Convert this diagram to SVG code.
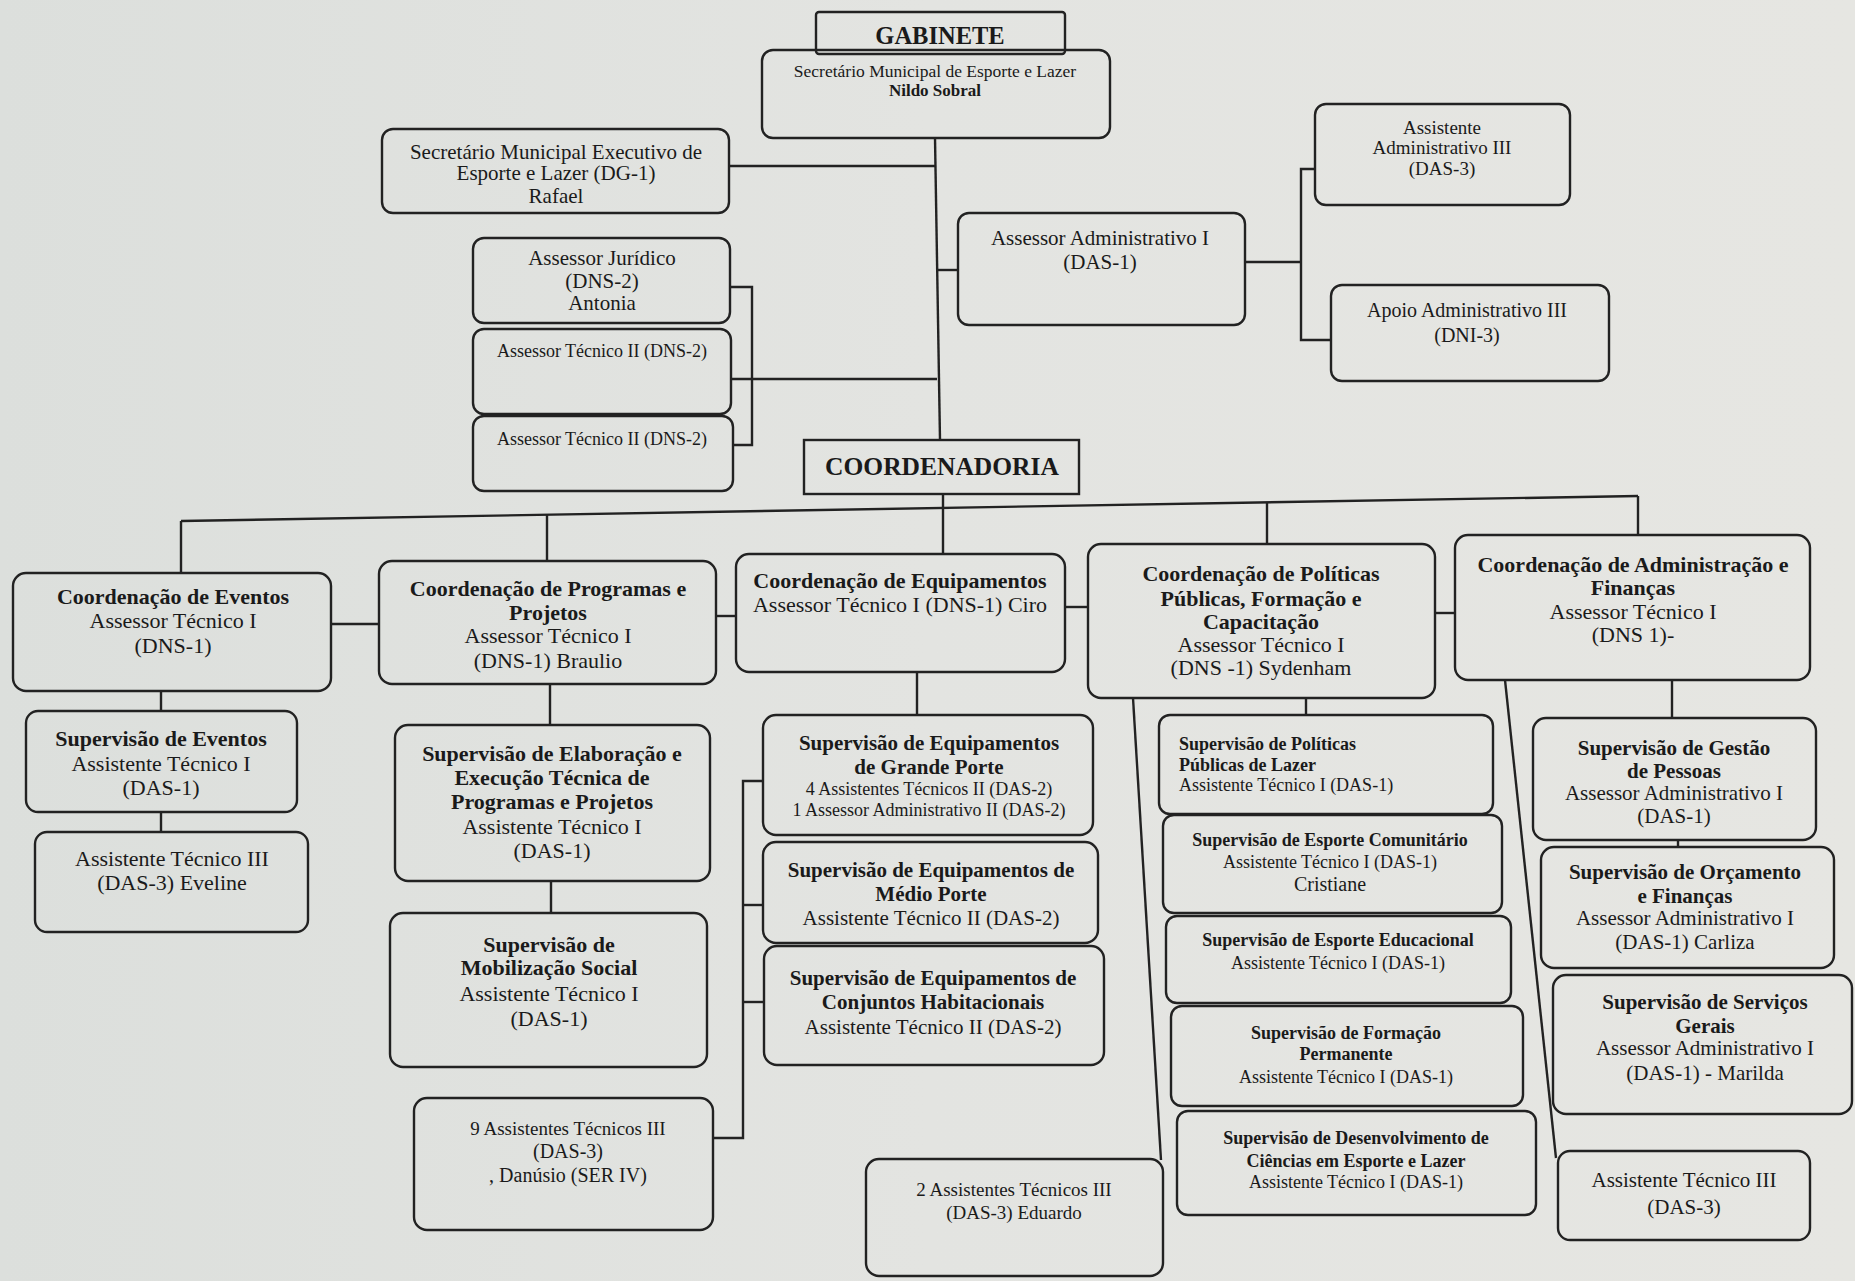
<svg xmlns="http://www.w3.org/2000/svg" width="1855" height="1281" viewBox="0 0 1855 1281">
<defs>
<linearGradient id="bg" x1="0" y1="0" x2="1" y2="0">
<stop offset="0" stop-color="#dcdfdc"/>
<stop offset="0.5" stop-color="#e3e4e1"/>
<stop offset="1" stop-color="#e6e6e2"/>
</linearGradient>
</defs>
<style>
.box{fill:none;stroke:#222;stroke-width:2.4}
.ln{fill:none;stroke:#222;stroke-width:2.4}
text{font-family:"Liberation Serif","Times New Roman",serif;fill:#1a1a1a;text-anchor:middle}
.r{font-size:21px}
.b{font-size:21px;font-weight:bold}
.s{font-size:18px}
.sb{font-size:18px;font-weight:bold}
.g{font-size:22px}
.gb{font-size:22px;font-weight:bold}
.l{text-anchor:start}
</style>
<rect x="0" y="0" width="1855" height="1281" fill="url(#bg)"/>

<g id="connectors">
<polyline class="ln" points="935,138 940,440"/>
<polyline class="ln" points="729,166 936,166"/>
<polyline class="ln" points="730,287 752,287 752,445 733,445"/>
<polyline class="ln" points="731,379 937,379"/>
<polyline class="ln" points="938,270 958,270"/>
<polyline class="ln" points="1245,262 1301,262"/>
<polyline class="ln" points="1315,169 1301,169 1301,340 1331,340"/>
<polyline class="ln" points="943,494 943,554"/>
<polyline class="ln" points="181,521 1638,496"/>
<polyline class="ln" points="181,521 181,573"/>
<polyline class="ln" points="547,515 547,561"/>
<polyline class="ln" points="1267,502 1267,544"/>
<polyline class="ln" points="1638,496 1638,535"/>
<polyline class="ln" points="331,624 379,624"/>
<polyline class="ln" points="716,616 736,616"/>
<polyline class="ln" points="1065,607 1088,607"/>
<polyline class="ln" points="1435,613 1455,613"/>
<polyline class="ln" points="161,691 161,711"/>
<polyline class="ln" points="161,812 161,832"/>
<polyline class="ln" points="550,684 550,725"/>
<polyline class="ln" points="551,881 551,913"/>
<polyline class="ln" points="917,672 917,715"/>
<polyline class="ln" points="763,781 743,781 743,1138 713,1138"/>
<polyline class="ln" points="743,905 763,905"/>
<polyline class="ln" points="743,1002 764,1002"/>
<polyline class="ln" points="1133,698 1161,1160"/>
<polyline class="ln" points="1306,698 1306,715"/>
<polyline class="ln" points="1672,680 1672,718"/>
<polyline class="ln" points="1678,840 1678,847"/>
<polyline class="ln" points="1505,680 1556,1158"/>
</g>

<g id="gabinete">
<rect class="box" x="816" y="12" width="249" height="42" rx="3"/>
<text class="gb" x="940" y="44" style="font-size:24.5px">GABINETE</text>
</g>
<g id="secretario">
<rect class="box" x="762" y="50" width="348" height="88" rx="11"/>
<text class="s" x="935" y="77" style="font-size:17.5px">Secretário Municipal de Esporte e Lazer</text>
<text class="sb" x="935" y="96" style="font-size:17px">Nildo Sobral</text>
</g>
<g id="executivo">
<rect class="box" x="382" y="129" width="347" height="84" rx="11"/>
<text class="r" x="556" y="159">Secretário Municipal Executivo de</text>
<text class="r" x="556" y="180">Esporte e Lazer (DG-1)</text>
<text class="r" x="556" y="203">Rafael</text>
</g>
<g id="juridico">
<rect class="box" x="473" y="238" width="257" height="85" rx="11"/>
<text class="r" x="602" y="265">Assessor Jurídico</text>
<text class="r" x="602" y="288">(DNS-2)</text>
<text class="r" x="602" y="310">Antonia</text>
</g>
<g id="tecnico2a">
<rect class="box" x="473" y="329" width="258" height="85" rx="11"/>
<text class="s" x="602" y="357">Assessor Técnico II (DNS-2)</text>
</g>
<g id="tecnico2b">
<rect class="box" x="473" y="416" width="260" height="75" rx="11"/>
<text class="s" x="602" y="445">Assessor Técnico II (DNS-2)</text>
</g>
<g id="admin1">
<rect class="box" x="958" y="213" width="287" height="112" rx="11"/>
<text class="r" x="1100" y="245">Assessor Administrativo I</text>
<text class="r" x="1100" y="269">(DAS-1)</text>
</g>
<g id="assistadm3">
<rect class="box" x="1315" y="104" width="255" height="101" rx="11"/>
<text class="s" x="1442" y="134" style="font-size:19px">Assistente</text>
<text class="s" x="1442" y="154" style="font-size:19px">Administrativo III</text>
<text class="s" x="1442" y="175" style="font-size:19px">(DAS-3)</text>
</g>
<g id="apoio">
<rect class="box" x="1331" y="285" width="278" height="96" rx="11"/>
<text class="r" x="1467" y="317" style="font-size:20px">Apoio Administrativo III</text>
<text class="r" x="1467" y="342" style="font-size:20px">(DNI-3)</text>
</g>
<g id="coordenadoria">
<rect class="box" x="804" y="440" width="275" height="54"/>
<text class="gb" x="942" y="475" style="font-size:25.5px">COORDENADORIA</text>
</g>

<g id="coord-eventos">
<rect class="box" x="13" y="573" width="318" height="118" rx="13"/>
<text class="gb" x="173" y="604">Coordenação de Eventos</text>
<text class="g" x="173" y="628">Assessor Técnico I</text>
<text class="g" x="173" y="653">(DNS-1)</text>
</g>
<g id="coord-programas">
<rect class="box" x="379" y="561" width="337" height="123" rx="13"/>
<text class="gb" x="548" y="596">Coordenação de Programas e</text>
<text class="gb" x="548" y="620">Projetos</text>
<text class="g" x="548" y="643">Assessor Técnico I</text>
<text class="g" x="548" y="668">(DNS-1) Braulio</text>
</g>
<g id="coord-equipamentos">
<rect class="box" x="736" y="554" width="329" height="118" rx="13"/>
<text class="gb" x="900" y="588">Coordenação de Equipamentos</text>
<text class="g" x="900" y="612">Assessor Técnico I (DNS-1) Ciro</text>
</g>
<g id="coord-politicas">
<rect class="box" x="1088" y="544" width="347" height="154" rx="13"/>
<text class="gb" x="1261" y="581">Coordenação de Políticas</text>
<text class="gb" x="1261" y="606">Públicas, Formação e</text>
<text class="gb" x="1261" y="629">Capacitação</text>
<text class="g" x="1261" y="652">Assessor Técnico I</text>
<text class="g" x="1261" y="675">(DNS -1) Sydenham</text>
</g>
<g id="coord-admin">
<rect class="box" x="1455" y="535" width="355" height="145" rx="13"/>
<text class="gb" x="1633" y="572">Coordenação de Administração e</text>
<text class="gb" x="1633" y="595">Finanças</text>
<text class="g" x="1633" y="619">Assessor Técnico I</text>
<text class="g" x="1633" y="642">(DNS 1)-</text>
</g>

<g id="sup-eventos">
<rect class="box" x="26" y="711" width="271" height="101" rx="12"/>
<text class="gb" x="161" y="746">Supervisão de Eventos</text>
<text class="g" x="161" y="771">Assistente Técnico I</text>
<text class="g" x="161" y="795">(DAS-1)</text>
</g>
<g id="at3-eveline">
<rect class="box" x="35" y="832" width="273" height="100" rx="12"/>
<text class="g" x="172" y="866">Assistente Técnico III</text>
<text class="g" x="172" y="890">(DAS-3) Eveline</text>
</g>

<g id="sup-elaboracao">
<rect class="box" x="395" y="725" width="315" height="156" rx="13"/>
<text class="gb" x="552" y="761">Supervisão de Elaboração e</text>
<text class="gb" x="552" y="785">Execução Técnica de</text>
<text class="gb" x="552" y="809">Programas e Projetos</text>
<text class="g" x="552" y="834">Assistente Técnico I</text>
<text class="g" x="552" y="858">(DAS-1)</text>
</g>
<g id="sup-mobilizacao">
<rect class="box" x="390" y="913" width="317" height="154" rx="13"/>
<text class="gb" x="549" y="952">Supervisão de</text>
<text class="gb" x="549" y="975">Mobilização Social</text>
<text class="g" x="549" y="1001">Assistente Técnico I</text>
<text class="g" x="549" y="1026">(DAS-1)</text>
</g>
<g id="nove-assistentes">
<rect class="box" x="414" y="1098" width="299" height="132" rx="13"/>
<text class="s" x="568" y="1135" style="font-size:19px">9 Assistentes Técnicos  III</text>
<text class="r" x="568" y="1158" style="font-size:20px">(DAS-3)</text>
<text class="r" x="568" y="1182" style="font-size:20px">, Danúsio (SER IV)</text>
</g>

<g id="sup-grande">
<rect class="box" x="763" y="715" width="330" height="120" rx="13"/>
<text class="b" x="929" y="750">Supervisão de Equipamentos</text>
<text class="b" x="929" y="774">de Grande Porte</text>
<text class="s" x="929" y="795">4 Assistentes Técnicos II (DAS-2)</text>
<text class="s" x="929" y="816">1 Assessor Administrativo II (DAS-2)</text>
</g>
<g id="sup-medio">
<rect class="box" x="763" y="842" width="335" height="101" rx="13"/>
<text class="b" x="931" y="877">Supervisão de Equipamentos de</text>
<text class="b" x="931" y="901">Médio Porte</text>
<text class="r" x="931" y="925">Assistente Técnico II (DAS-2)</text>
</g>
<g id="sup-conjuntos">
<rect class="box" x="764" y="946" width="340" height="119" rx="13"/>
<text class="b" x="933" y="985">Supervisão de Equipamentos de</text>
<text class="b" x="933" y="1009">Conjuntos Habitacionais</text>
<text class="r" x="933" y="1034">Assistente Técnico II (DAS-2)</text>
</g>
<g id="dois-assistentes">
<rect class="box" x="866" y="1159" width="297" height="117" rx="13"/>
<text class="s" x="1014" y="1196" style="font-size:19px">2 Assistentes Técnicos III</text>
<text class="s" x="1014" y="1219" style="font-size:19px">(DAS-3) Eduardo</text>
</g>

<g id="sup-politicas-lazer">
<rect class="box" x="1159" y="715" width="334" height="99" rx="11"/>
<text class="sb l" x="1179" y="750">Supervisão de Políticas</text>
<text class="sb l" x="1179" y="771">Públicas de Lazer</text>
<text class="s l" x="1179" y="791">Assistente Técnico I (DAS-1)</text>
</g>
<g id="sup-comunitario">
<rect class="box" x="1163" y="815" width="339" height="98" rx="11"/>
<text class="sb" x="1330" y="846">Supervisão de Esporte Comunitário</text>
<text class="s" x="1330" y="868">Assistente Técnico I (DAS-1)</text>
<text class="r" x="1330" y="891" style="font-size:20px">Cristiane</text>
</g>
<g id="sup-educacional">
<rect class="box" x="1166" y="916" width="345" height="87" rx="11"/>
<text class="sb" x="1338" y="946">Supervisão de Esporte Educacional</text>
<text class="s" x="1338" y="969">Assistente Técnico I (DAS-1)</text>
</g>
<g id="sup-formacao">
<rect class="box" x="1171" y="1006" width="352" height="100" rx="11"/>
<text class="sb" x="1346" y="1039">Supervisão de Formação</text>
<text class="sb" x="1346" y="1060">Permanente</text>
<text class="s" x="1346" y="1083">Assistente Técnico I (DAS-1)</text>
</g>
<g id="sup-desenvolvimento">
<rect class="box" x="1177" y="1111" width="359" height="104" rx="11"/>
<text class="sb" x="1356" y="1144">Supervisão de Desenvolvimento de</text>
<text class="sb" x="1356" y="1167">Ciências em Esporte e Lazer</text>
<text class="s" x="1356" y="1188">Assistente Técnico I (DAS-1)</text>
</g>

<g id="sup-gestao">
<rect class="box" x="1533" y="718" width="283" height="122" rx="13"/>
<text class="b" x="1674" y="755">Supervisão de Gestão</text>
<text class="b" x="1674" y="778">de Pessoas</text>
<text class="r" x="1674" y="800">Assessor Administrativo I</text>
<text class="r" x="1674" y="823">(DAS-1)</text>
</g>
<g id="sup-orcamento">
<rect class="box" x="1541" y="847" width="293" height="121" rx="13"/>
<text class="b" x="1685" y="879">Supervisão de Orçamento</text>
<text class="b" x="1685" y="903">e Finanças</text>
<text class="r" x="1685" y="925">Assessor Administrativo I</text>
<text class="r" x="1685" y="949">(DAS-1) Carliza</text>
</g>
<g id="sup-servicos">
<rect class="box" x="1553" y="975" width="299" height="139" rx="13"/>
<text class="b" x="1705" y="1009">Supervisão de Serviços</text>
<text class="b" x="1705" y="1033">Gerais</text>
<text class="r" x="1705" y="1055">Assessor Administrativo I</text>
<text class="r" x="1705" y="1080">(DAS-1) - Marilda</text>
</g>
<g id="at3-admin">
<rect class="box" x="1558" y="1151" width="252" height="89" rx="12"/>
<text class="r" x="1684" y="1187">Assistente Técnico III</text>
<text class="r" x="1684" y="1214">(DAS-3)</text>
</g>
</svg>
